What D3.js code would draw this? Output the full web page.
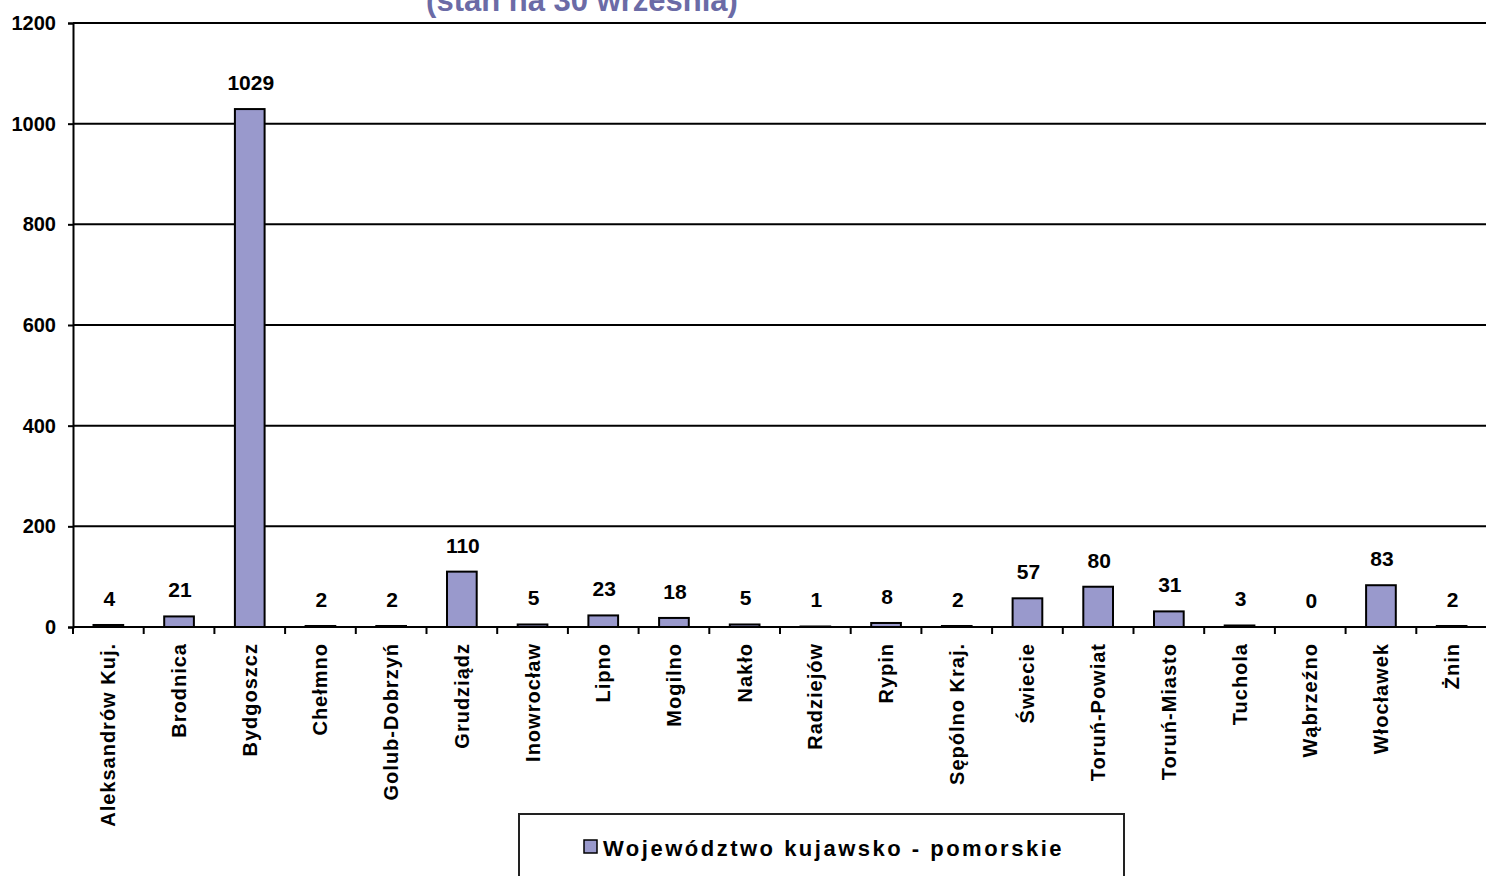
<!DOCTYPE html>
<html><head><meta charset="utf-8">
<script src="https://cdn.jsdelivr.net/npm/d3@7"></script>
<style>
html,body{margin:0;padding:0;background:#fff;overflow:hidden}
text{font-family:"Liberation Sans",Arial,sans-serif;font-weight:bold}
</style></head><body>
<svg id="c" width="1486" height="876"></svg>
<script>
const categories = ["Aleksandrów Kuj.","Brodnica","Bydgoszcz","Chełmno","Golub-Dobrzyń","Grudziądz","Inowrocław","Lipno","Mogilno","Nakło","Radziejów","Rypin","Sępólno Kraj.","Świecie","Toruń-Powiat","Toruń-Miasto","Tuchola","Wąbrzeźno","Włocławek","Żnin"];
const values = [4,21,1029,2,2,110,5,23,18,5,1,8,2,57,80,31,3,0,83,2];
const yTicks = [0,200,400,600,800,1000,1200];
const seriesName = "Województwo kujawsko - pomorskie";
const titleLine = "(stan na 30 września)";

(function(){
const svg = d3.select("#c");
const pL = 73, pR = 1487, pT = 23, pB = 627;
const x = d3.scaleBand().domain(categories).range([pL, pR]).padding(0);
const y = d3.scaleLinear().domain([0,1200]).range([pB, pT]);

svg.append("text").attr("x",582).attr("y",11).attr("text-anchor","middle")
  .attr("fill","#6b6ba6").style("font-size","31px").text(titleLine);

svg.append("g").selectAll("line").data(yTicks).join("line")
  .attr("x1",pL).attr("x2",1486).attr("y1",d=>y(d)).attr("y2",d=>y(d))
  .attr("stroke","#000").attr("stroke-width",2);

const ya = svg.append("g").attr("transform",`translate(${pL},0)`)
  .call(d3.axisLeft(y).tickValues(yTicks).tickFormat(d3.format("d")).tickSize(5).tickPadding(12));
ya.select(".domain").attr("stroke","#000").attr("stroke-width",2);
ya.selectAll(".tick line").attr("stroke","#000").attr("stroke-width",2);
ya.selectAll(".tick text").style("font-size","20px")
  .attr("fill","#000").attr("font-family","Liberation Sans, Arial").attr("font-weight","bold");

const bw = x.bandwidth()*0.42;
svg.append("g").selectAll("rect").data(values).join("rect")
  .attr("x",(d,i)=>x(categories[i])+x.bandwidth()/2-bw/2)
  .attr("y",d=>y(d))
  .attr("width",bw)
  .attr("height",d=>y(0)-y(d))
  .attr("fill","#9999cc").attr("stroke","#000").attr("stroke-width",2);

svg.append("g").selectAll("line").data(categories).join("line")
  .attr("x1",d=>x(d)).attr("x2",d=>x(d)).attr("y1",pB).attr("y2",pB+7)
  .attr("stroke","#000").attr("stroke-width",2);

svg.append("g").selectAll("text").data(values).join("text")
  .attr("x",(d,i)=>x(categories[i])+x.bandwidth()/2+1)
  .attr("y",d=>y(d)-19)
  .attr("text-anchor","middle").style("font-size","21px")
  .text(d=>d);

svg.append("g").selectAll("text").data(categories).join("text")
  .attr("transform",d=>`translate(${x(d)+x.bandwidth()/2+7},643) rotate(-90)`)
  .attr("text-anchor","end").style("font-size","20px").style("letter-spacing","1px")
  .text(d=>d);

svg.append("rect").attr("x",519).attr("y",814).attr("width",605).attr("height",80)
  .attr("fill","#fff").attr("stroke","#222").attr("stroke-width",2);
svg.append("rect").attr("x",584).attr("y",840).attr("width",13).attr("height",13)
  .attr("fill","#9999cc").attr("stroke","#000").attr("stroke-width",1.5);
svg.append("text").attr("x",603).attr("y",856).style("font-size","22px").style("letter-spacing","2.5px")
  .text(seriesName);
})();
</script></body></html>
